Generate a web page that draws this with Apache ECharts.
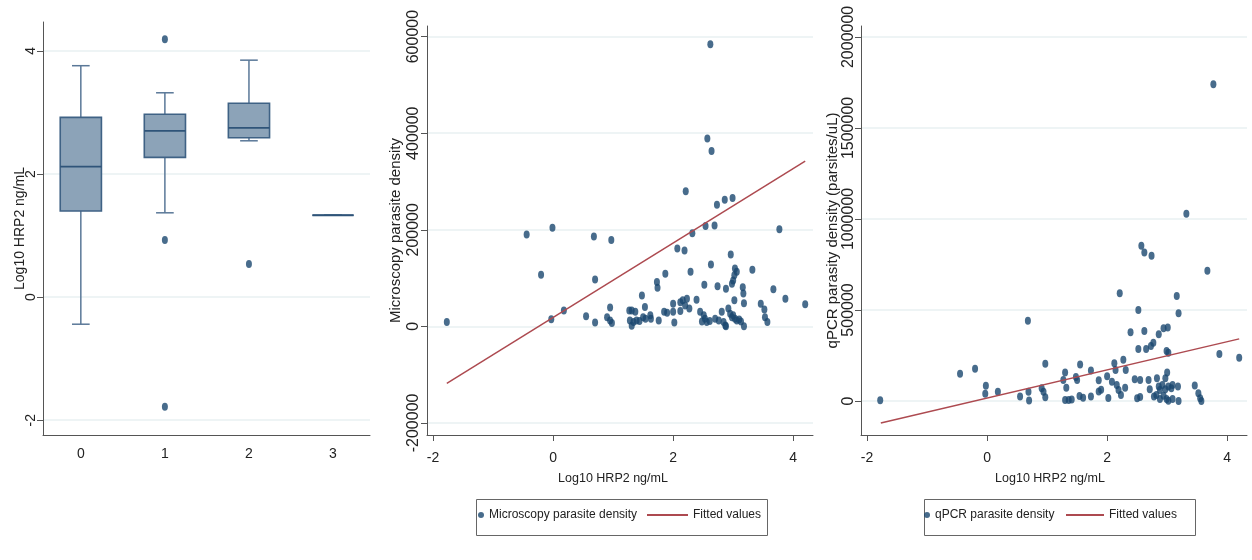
<!DOCTYPE html>
<html>
<head>
<meta charset="utf-8">
<script src="https://cdn.jsdelivr.net/npm/echarts@6/dist/echarts.min.js"></script>
<style>
  html, body { margin: 0; padding: 0; background: #fff; }
  #chart { width: 1252px; height: 560px; }
</style>
</head>
<body>
<div id="chart"></div>
<script>
// left panel: Log10 HRP2 by group
const boxGroups = [0, 1, 2, 3]
// low whisker, q1, median, q3, high whisker
const boxStats = [
  [-0.44, 1.40, 2.12, 2.92, 3.76],
  [1.37, 2.27, 2.70, 2.97, 3.32],
  [2.54, 2.59, 2.75, 3.15, 3.85],
  [1.33, 1.33, 1.33, 1.33, 1.33],
]
const boxOutliers = [[1, 4.19], [1, 0.93], [1, -1.78], [2, 0.54]]

// middle panel: log10 HRP2 vs microscopy density
const microPoints = [
  [-1.77, 9000], [-0.44, 190000], [-0.2, 107000], [-0.03, 14500], [-0.01, 204000],
  [0.18, 33000], [0.55, 21000], [0.68, 186000], [0.7, 97000], [0.7, 8000],
  [0.9, 19000], [0.95, 39000], [0.95, 12000], [0.97, 179000], [0.98, 7000],
  [1.27, 33000], [1.31, 33000], [1.37, 30000], [1.28, 12000], [1.34, 9000],
  [1.31, 1000], [1.39, 12000], [1.44, 11000], [1.48, 64000], [1.53, 40000],
  [1.5, 19000], [1.54, 16000], [1.62, 23000], [1.63, 16000], [1.73, 92000],
  [1.74, 80000], [1.76, 12000], [1.87, 109000], [1.85, 30000], [1.9, 28000],
  [2.0, 47000], [2.0, 30000], [2.02, 8000], [2.07, 161000], [2.12, 50000],
  [2.16, 54000], [2.2, 43000], [2.23, 57000], [2.12, 32000], [2.19, 157000],
  [2.21, 280000], [2.29, 113000], [2.27, 37000], [2.32, 193000], [2.39, 55000],
  [2.45, 30000], [2.51, 23000], [2.53, 16000], [2.48, 10000], [2.56, 9000],
  [2.52, 86000], [2.54, 208000], [2.57, 389000], [2.62, 584000], [2.64, 363000],
  [2.63, 128000], [2.61, 11000], [2.69, 209000], [2.7, 16000], [2.73, 252000],
  [2.74, 83000], [2.76, 12000], [2.81, 30000], [2.84, 9000], [2.87, 2000],
  [2.88, 0], [2.86, 262000], [2.88, 78000], [2.92, 37000], [2.95, 26000],
  [2.96, 149000], [2.98, 19000], [2.98, 88000], [2.99, 266000], [3.0, 95000],
  [3.0, 23000], [3.02, 106000], [3.02, 54000], [3.03, 120000], [3.03, 16000],
  [3.06, 113000], [3.06, 12000], [3.1, 14000], [3.13, 10000], [3.16, 81000],
  [3.17, 68000], [3.18, 48000], [3.18, 0], [3.32, 117000], [3.46, 47000],
  [3.52, 35000], [3.53, 19000], [3.57, 9000], [3.67, 77000], [3.77, 201000],
  [3.87, 57000], [4.2, 46000],
]

// right panel: log10 HRP2 vs qPCR density
const qpcrPoints = [
  [-1.78, 4000], [-0.45, 150000], [-0.2, 177000], [-0.02, 83000], [-0.03, 40000],
  [0.18, 51000], [0.55, 25000], [0.68, 440000], [0.69, 51000], [0.7, 2000],
  [0.91, 70000], [0.94, 51000], [0.97, 20000], [0.97, 205000], [1.27, 115000],
  [1.3, 157000], [1.32, 73000], [1.3, 5000], [1.36, 5000], [1.41, 8000],
  [1.48, 132000], [1.5, 115000], [1.55, 200000], [1.54, 27000], [1.6, 18000],
  [1.73, 168000], [1.73, 24000], [1.86, 114000], [1.86, 52000], [1.9, 62000],
  [2.0, 136000], [2.02, 16000], [2.08, 106000], [2.12, 207000], [2.14, 170000],
  [2.16, 88000], [2.19, 60000], [2.21, 592000], [2.23, 33000], [2.27, 227000],
  [2.3, 73000], [2.31, 170000], [2.39, 377000], [2.46, 119000], [2.5, 15000],
  [2.52, 500000], [2.52, 286000], [2.55, 115000], [2.55, 22000], [2.57, 853000],
  [2.62, 815000], [2.62, 385000], [2.65, 286000], [2.69, 115000], [2.71, 64000],
  [2.73, 302000], [2.74, 798000], [2.77, 320000], [2.78, 24000], [2.82, 33000],
  [2.83, 125000], [2.86, 366000], [2.86, 79000], [2.88, 60000], [2.88, 11000],
  [2.92, 88000], [2.94, 399000], [2.94, 29000], [2.97, 125000], [2.97, 64000],
  [2.99, 275000], [2.99, 11000], [3.0, 156000], [3.01, 403000], [3.02, 265000],
  [3.02, 79000], [3.02, 1000], [3.07, 70000], [3.09, 88000], [3.09, 11000],
  [3.16, 577000], [3.18, 79000], [3.19, 482000], [3.19, 0], [3.32, 1029000],
  [3.46, 85000], [3.52, 42000], [3.55, 15000], [3.57, 0], [3.67, 716000],
  [3.77, 1740000], [3.87, 258000], [4.2, 238000],
]

// fitted lines (ends of the fit)
const fitX = [-1.77, 4.2]
const fitMicro = [-118000, 342000]
const fitQpcr = [-121000, 341000]

const boxTicks = [-2, 0, 2, 4]
const xTicks = [-2, 0, 2, 4]
const microTicks = [-200000, 0, 200000, 400000, 600000]
const qpcrTicks = [0, 500000, 1000000, 1500000, 2000000]

const navy = '#1a476f'
const axisColor = '#555'
const gridColor = '#e8f0f2'
const textColor = '#222'
const fitColor = '#ad4a50'
const font = 'Liberation Sans, Arial, sans-serif'

function renderBox(params, api) {
  let x = api.value(0)
  let lo = api.coord([x, api.value(1)])
  let q1 = api.coord([x, api.value(2)])
  let med = api.coord([x, api.value(3)])
  let q3 = api.coord([x, api.value(4)])
  let hi = api.coord([x, api.value(5)])
  let w = api.size([0.49, 0])[0]
  let cap = api.size([0.21, 0])[0]
  let cx = lo[0]
  let lineStyle = { stroke: '#5a7898', lineWidth: 1.5 }
  return {
    type: 'group',
    children: [
      { type: 'line', shape: { x1: cx, y1: hi[1], x2: cx, y2: q3[1] }, style: lineStyle },
      { type: 'line', shape: { x1: cx, y1: q1[1], x2: cx, y2: lo[1] }, style: lineStyle },
      { type: 'line', shape: { x1: cx - cap / 2, y1: hi[1], x2: cx + cap / 2, y2: hi[1] }, style: lineStyle },
      { type: 'line', shape: { x1: cx - cap / 2, y1: lo[1], x2: cx + cap / 2, y2: lo[1] }, style: lineStyle },
      {
        type: 'rect',
        shape: { x: cx - w / 2, y: q3[1], width: w, height: q1[1] - q3[1] },
        style: { fill: '#8ca3b8', stroke: '#3f6285', lineWidth: 1.6 },
      },
      {
        type: 'line',
        shape: { x1: cx - w / 2, y1: med[1], x2: cx + w / 2, y2: med[1] },
        style: { stroke: '#2f5479', lineWidth: 1.8 },
      },
    ],
  }
}

function yAxisOf(gridIndex, min, max, ticks, name, nameGap, margin, size, nameSize) {
  return {
    type: 'value',
    gridIndex: gridIndex,
    min: min,
    max: max,
    name: name,
    nameLocation: 'middle',
    nameGap: nameGap,
    nameMoveOverlap: false,
    nameTextStyle: { color: textColor, fontFamily: font, fontSize: nameSize, lineHeight: nameSize },
    axisLine: { show: true, onZero: false, lineStyle: { color: axisColor, width: 1 } },
    axisTick: { show: true, length: 6, inside: false, customValues: ticks, lineStyle: { color: axisColor } },
    axisLabel: {
      customValues: ticks,
      rotate: 90,
      margin: margin,
      color: textColor,
      fontFamily: font,
      fontSize: size,
      lineHeight: size,
      formatter: (v) => String(v),
    },
    splitLine: { show: true, lineStyle: { color: gridColor, width: 1.5 } },
  }
}

function xAxisOf(gridIndex, min, max, ticks, name, showTick, margin, shift) {
  return {
    type: 'value',
    gridIndex: gridIndex,
    min: min,
    max: max,
    name: name,
    nameLocation: 'middle',
    nameGap: 37,
    nameMoveOverlap: false,
    nameTextStyle: { color: textColor, fontFamily: font, fontSize: 12.5, padding: [0, shift, 0, 0] },
    axisLine: { show: true, onZero: false, lineStyle: { color: axisColor, width: 1 } },
    axisTick: { show: showTick, length: 6, customValues: ticks, lineStyle: { color: axisColor } },
    axisLabel: {
      customValues: ticks,
      margin: margin,
      color: textColor,
      fontFamily: font,
      fontSize: 14,
      formatter: (v) => String(v),
    },
    splitLine: { show: false },
  }
}

let legendText = { color: textColor, fontFamily: font, fontSize: 12 }

let myChart = echarts.init(document.getElementById('chart'))
myChart.setOption({
  animation: false,
  backgroundColor: '#fff',
  grid: [
    { left: 43, top: 22, width: 327, height: 413, outerBoundsMode: 'none' },
    { left: 427, top: 26, width: 386, height: 409, outerBoundsMode: 'none' },
    { left: 861, top: 26, width: 386, height: 409, outerBoundsMode: 'none' },
  ],
  xAxis: [
    xAxisOf(0, -0.45, 3.44, boxGroups, '', false, 12, 0),
    xAxisOf(1, -2.1, 4.33, xTicks, 'Log10 HRP2 ng/mL', true, 16, 14),
    xAxisOf(2, -2.1, 4.33, xTicks, 'Log10 HRP2 ng/mL', true, 16, 8),
  ],
  yAxis: [
    yAxisOf(0, -2.24, 4.47, boxTicks, 'Log10 HRP2 ng/mL', 16, 4.5, 14, 14),
    yAxisOf(1, -225000, 622000, microTicks, 'Microscopy parasite density', 24, 5, 16, 15),
    yAxisOf(2, -187000, 2060000, qpcrTicks, 'qPCR parasity density (parsites/uL)', 21, 4, 16, 15),
  ],
  legend: [
    {
      left: 478, top: 509, padding: 0, itemWidth: 6, itemHeight: 7,
      data: [{ name: 'Microscopy parasite density', icon: 'circle' }],
      textStyle: legendText,
    },
    {
      left: 647, top: 509, padding: 0, itemWidth: 41, itemHeight: 2,
      data: [{ name: 'Fitted values', icon: 'rect', itemStyle: { color: fitColor } }],
      textStyle: legendText,
    },
    {
      left: 924, top: 509, padding: 0, itemWidth: 6, itemHeight: 7,
      data: [{ name: 'qPCR parasite density', icon: 'circle' }],
      textStyle: legendText,
    },
    {
      left: 1066, top: 509, padding: 0, itemWidth: 38, itemHeight: 2,
      data: [{ name: 'Fitted values', icon: 'rect', itemStyle: { color: fitColor } }],
      textStyle: legendText,
    },
  ],
  graphic: [
    { type: 'rect', left: 474, top: 497, shape: { width: 291, height: 36 }, style: { fill: 'none', stroke: '#666', lineWidth: 1 } },
    { type: 'rect', left: 922, top: 497, shape: { width: 271, height: 36 }, style: { fill: 'none', stroke: '#666', lineWidth: 1 } },
  ],
  series: [
    {
      type: 'custom',
      xAxisIndex: 0,
      yAxisIndex: 0,
      renderItem: renderBox,
      data: boxGroups.map((g, i) => [g].concat(boxStats[i])),
    },
    {
      type: 'scatter',
      xAxisIndex: 0,
      yAxisIndex: 0,
      symbol: 'circle',
      symbolSize: [6, 8],
      itemStyle: { color: navy },
      data: boxOutliers,
    },
    {
      name: 'Microscopy parasite density',
      type: 'scatter',
      xAxisIndex: 1,
      yAxisIndex: 1,
      symbol: 'circle',
      symbolSize: [6, 8],
      itemStyle: { color: navy },
      data: microPoints,
    },
    {
      name: 'Fitted values',
      type: 'line',
      xAxisIndex: 1,
      yAxisIndex: 1,
      symbol: 'none',
      lineStyle: { color: fitColor, width: 1.5 },
      itemStyle: { color: fitColor },
      data: fitX.map((x, i) => [x, fitMicro[i]]),
    },
    {
      name: 'qPCR parasite density',
      type: 'scatter',
      xAxisIndex: 2,
      yAxisIndex: 2,
      symbol: 'circle',
      symbolSize: [6, 8],
      itemStyle: { color: navy },
      data: qpcrPoints,
    },
    {
      name: 'Fitted values',
      type: 'line',
      xAxisIndex: 2,
      yAxisIndex: 2,
      symbol: 'none',
      lineStyle: { color: fitColor, width: 1.5 },
      itemStyle: { color: fitColor },
      data: fitX.map((x, i) => [x, fitQpcr[i]]),
    },
  ],
})
</script>
</body>
</html>
